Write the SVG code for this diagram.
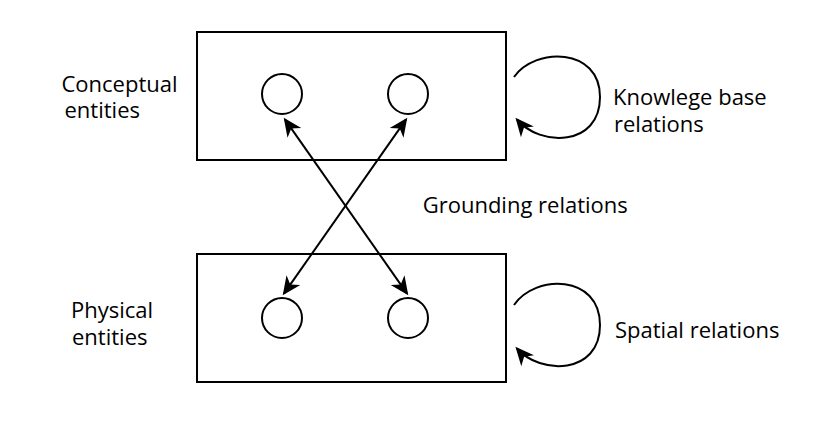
<svg xmlns="http://www.w3.org/2000/svg" width="830" height="421" viewBox="0 0 830 421">
  <style>
    .box { fill: #ffffff; stroke: #000000; stroke-width: 2; }
    .ent { fill: #ffffff; stroke: #000000; stroke-width: 2; }
    .edge { fill: none; stroke: #000000; stroke-width: 2; }
    .lbl { font-family: "Open Sans", "Noto Sans", "Liberation Sans", sans-serif; font-size: 22px; fill: #000000; }
  </style>
  <defs>
    <marker id="arrow" markerUnits="userSpaceOnUse" markerWidth="24" markerHeight="24" viewBox="-16 -9 20 18" refX="0" refY="0" orient="auto-start-reverse">
      <path d="M -13.5 -7 L 2 0 L -13.5 7 L -9 0 Z" fill="#000000" stroke="none"/>
    </marker>
  </defs>
  <rect width="830" height="421" fill="#ffffff"/>

  <g id="conceptual-box">
    <rect class="box" x="197" y="32" width="309" height="128"/>
    <text class="lbl"><tspan x="61.5" y="92">Conceptual</tspan><tspan x="64.5" y="118">entities</tspan></text>
  </g>
  <g id="physical-box">
    <rect class="box" x="197" y="254" width="309" height="128"/>
    <text class="lbl"><tspan x="71" y="318">Physical</tspan><tspan x="72" y="345">entities</tspan></text>
  </g>

  <g id="c1"><circle class="ent" cx="282" cy="94" r="20"/></g>
  <g id="c2"><circle class="ent" cx="408" cy="94" r="20"/></g>
  <g id="p1"><circle class="ent" cx="282" cy="318" r="20"/></g>
  <g id="p2"><circle class="ent" cx="408" cy="318" r="20"/></g>

  <g id="connectors">
    <line class="edge" x1="285.1" y1="119.6" x2="406.9" y2="293.4" marker-start="url(#arrow)" marker-end="url(#arrow)"/>
    <line class="edge" x1="405.9" y1="119.6" x2="284.1" y2="293.4" marker-start="url(#arrow)" marker-end="url(#arrow)"/>
    <path class="edge" d="M 514 77 C 535 47, 600 47, 600 97 C 600 147, 540 147, 517 119.5" marker-end="url(#arrow)"/>
    <path class="edge" d="M 514 305 C 535 274, 600 274, 600 325 C 600 375, 540 375, 517 348.5" marker-end="url(#arrow)"/>
  </g>

  <g id="labels">
    <text class="lbl"><tspan x="613" y="105">Knowlege base</tspan><tspan x="614" y="132">relations</tspan></text>
    <text class="lbl" x="422.7" y="213">Grounding relations</text>
    <text class="lbl" x="615" y="338">Spatial relations</text>
  </g>
</svg>
